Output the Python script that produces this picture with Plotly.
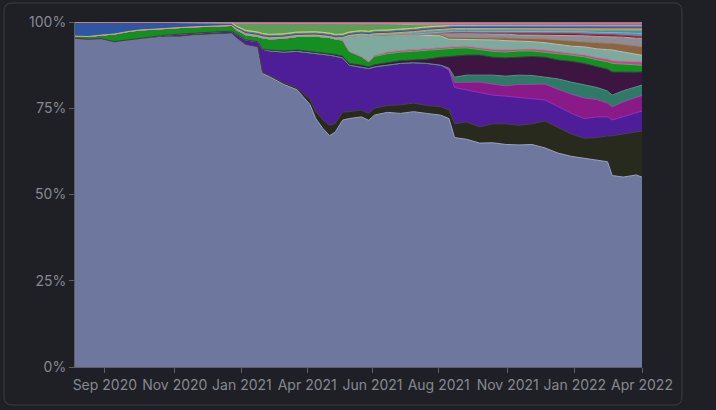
import plotly.graph_objects as go

# ---------------- data ----------------
dates = [
    "2020-08-01", "2020-08-15", "2020-08-29", "2020-09-12", "2020-09-26", "2020-10-10",
    "2020-10-24", "2020-11-07", "2020-11-22", "2020-12-06", "2020-12-20", "2021-01-03",
    "2021-01-16", "2021-01-21", "2021-01-31", "2021-02-13", "2021-02-18", "2021-02-26",
    "2021-03-13", "2021-03-27", "2021-04-10", "2021-04-16", "2021-04-24", "2021-05-01",
    "2021-05-07", "2021-05-15", "2021-05-22", "2021-06-04", "2021-06-12", "2021-06-18",
    "2021-07-02", "2021-07-16", "2021-07-30", "2021-08-13", "2021-08-28", "2021-09-06",
    "2021-09-12", "2021-09-25", "2021-10-09", "2021-10-23", "2021-11-06", "2021-11-20",
    "2021-12-04", "2021-12-18", "2022-01-01", "2022-01-15", "2022-01-29", "2022-02-12",
    "2022-02-23", "2022-02-28", "2022-03-12", "2022-03-26", "2022-04-01",
]

tick_dates = ["2020-09-02", "2020-11-16", "2021-01-27", "2021-04-07", "2021-06-16",
              "2021-08-26", "2021-11-08", "2022-01-19", "2022-04-01"]
tick_labels = ["Sep 2020", "Nov 2020", "Jan 2021", "Apr 2021", "Jun 2021",
               "Aug 2021", "Nov 2021", "Jan 2022", "Apr 2022"]
y_tick_vals = [0, 25, 50, 75, 100]
y_tick_labels = ["0%", "25%", "50%", "75%", "100%"]

s_base = [95.3, 95.0, 95.2, 94.3, 94.8, 95.3, 95.6, 95.9, 95.9, 96.3, 96.5, 96.7, 96.8,
          95.5, 93.5, 92.8, 85.0, 84.0, 81.8, 80.3, 76.0, 72.0, 69.0, 67.0, 68.0,
          71.5, 72.0, 72.5, 71.5, 73.0, 73.8, 73.5, 74.0, 73.5, 73.0, 72.0, 66.5,
          66.0, 64.9, 65.0, 64.5, 64.3, 64.5, 63.5, 62.0, 61.0, 60.5, 60.0, 59.5, 55.5, 55.0, 55.5, 54.8]
s_olive = [0, 0, 0, 0, 0, 0, 0, 0, 0, 0, 0, 0, 0, 0, 0, 0,
           0.3, 0.4, 0.5, 0.5, 1.5, 2.0, 2.5, 3.0, 2.5, 2.3,
           2.0, 2.0, 2.0, 2.0, 2.0, 2.5, 2.5, 2.3, 2.5, 2.5,
           4.0, 5.0, 4.7, 5.5, 6.0, 5.7, 6.0, 7.8, 7.5, 6.5,
           5.8, 6.5, 7.5, 11.5, 12.5, 12.5, 13.3]
s_purple = [0, 0, 0, 0, 0, 0, 0, 0.3, 0.6, 0.5, 0.5, 0.5, 0.5, 1.0, 1.3, 1.5,
            6.7, 7.1, 8.9, 10.6, 13.5, 16.8, 19.1, 20.3, 19.5, 15.7,
            13.5, 12.5, 13.0, 12.0, 11.7, 12.0, 11.7, 12.2, 12.0, 11.5,
            10.5, 9.3, 9.8, 8.3, 8.0, 8.0, 7.3, 6.1, 6.0, 6.0,
            5.7, 6.0, 5.5, 4.6, 5.0, 5.5, 5.8]
s_magenta = [0, 0, 0, 0, 0, 0, 0, 0, 0, 0, 0, 0, 0, 0, 0, 0, 0, 0, 0, 0,
             0, 0, 0, 0, 0, 0, 0, 0, 0, 0, 0, 0, 0, 0, 0,
             0.3, 1.5, 2.3, 3.2, 3.2, 3.0, 3.8, 4.2, 4.6, 5.0, 5.5, 6.0, 5.0, 4.0, 3.8, 4.3, 4.5, 4.5]
s_teal = [0, 0, 0, 0, 0, 0, 0, 0, 0, 0, 0, 0, 0, 0, 0, 0, 0, 0, 0, 0,
          0, 0, 0, 0, 0, 0, 0, 0, 0, 0, 0, 0, 0, 0, 0,
          0.3, 1.5, 2.0, 2.0, 2.6, 2.8, 2.7, 2.5, 2.0, 3.0, 3.5, 3.7, 3.5, 3.5, 3.4, 3.2, 3.0, 3.0]
s_plum = [0, 0, 0, 0, 0, 0, 0, 0, 0, 0, 0, 0, 0, 0, 0, 0, 0,
          0.3, 0.3, 0.4, 0.4, 0.4, 0.4, 0.4, 0.5, 0.5, 0.5,
          0.5, 0.5, 0.6, 0.8, 0.8, 0.8, 1.2, 2.3, 3.4, 6.2,
          5.8, 5.8, 5.2, 5.3, 5.3, 5.5, 5.8, 5.5, 6.0, 6.3,
          6.0, 6.3, 6.7, 5.3, 4.2, 3.8]
s_green = [0.6, 0.8, 1.0, 2.2, 2.4, 2.4, 2.3, 2.0, 1.9, 1.8,
           1.7, 1.6, 1.7, 1.3, 1.5, 1.5, 3.3, 3.2, 3.7, 3.9,
           4.5, 4.6, 4.6, 4.7, 4.5, 4.6, 3.5, 2.5, 1.5, 2.4,
           2.5, 2.5, 2.5, 2.6, 2.4, 2.3, 2.2, 2.1, 1.5, 1.7,
           1.7, 1.7, 1.6, 1.5, 1.8, 1.8, 1.9, 2.0, 2.2, 2.5,
           2.5, 2.1, 1.9]
s_pink = [0, 0, 0, 0, 0, 0, 0, 0, 0, 0, 0, 0, 0, 0, 0, 0, 0, 0, 0, 0,
          0, 0, 0, 0, 0, 0, 0, 0, 0,
          0.3, 0.5, 0.5, 0.5, 0.5, 0.5, 0.5, 0.5, 0.5, 0.6,
          0.6, 0.7, 0.6, 0.6, 0.6, 0.6, 0.6, 0.6, 0.7, 0.8,
          0.8, 0.8, 0.9, 1.0]
s_lteal = [0, 0, 0, 0, 0, 0, 0, 0, 0, 0, 0, 0, 0, 0, 0, 0, 0, 0, 0, 0,
           0, 0, 0, 0, 0,
           0.5, 4.3, 6.2, 7.5, 5.7, 4.8, 4.5, 4.2, 3.8, 3.3,
           2.2, 2.1, 2.0, 2.3, 2.7, 2.6, 2.3, 2.1, 2.1, 2.1,
           2.0, 2.3, 2.5, 2.7, 3.1, 2.6, 2.1, 1.9]
s_brown = [0, 0, 0, 0, 0, 0, 0, 0, 0, 0, 0, 0, 0, 0, 0, 0, 0, 0, 0, 0,
           0, 0, 0, 0, 0, 0, 0, 0, 0, 0, 0, 0, 0,
           0.3, 0.5, 0.6, 0.6, 0.6, 0.7, 0.7, 0.8, 0.8, 1.0, 1.1, 1.3, 1.5,
           1.6, 1.8, 1.9, 2.0, 2.2, 2.4, 2.5]
s_grey = [0, 0, 0, 0, 0, 0, 0, 0, 0, 0, 0, 0, 0, 0, 0, 0, 0, 0, 0, 0,
          0, 0, 0, 0, 0, 0, 0, 0, 0,
          0.3, 0.3, 0.3, 0.3, 0.4, 0.3, 1.3, 1.3, 1.3, 1.3, 1.0,
          1.1, 0.9, 0.9, 1.1, 1.3, 1.5, 1.6, 1.8, 1.9, 1.9,
          2.1, 2.3, 2.4]
s_darkred = [0, 0, 0, 0, 0, 0, 0, 0, 0, 0, 0, 0, 0, 0, 0, 0, 0, 0, 0, 0,
             0, 0, 0, 0, 0, 0, 0, 0, 0, 0, 0, 0, 0, 0, 0, 0, 0, 0, 0,
             0.3, 0.3, 0.6, 0.6, 0.6, 0.7, 0.7, 0.5, 0.5, 0.5, 0.5, 0.5, 0.5, 0.5]
s_slate = [0, 0, 0, 0, 0, 0, 0, 0, 0, 0, 0, 0, 0, 0, 0, 0, 0, 0, 0, 0,
           0, 0, 0, 0, 0, 0, 0, 0, 0, 0, 0, 0, 0, 0,
           0.3, 0.4, 0.4, 0.4, 0.5, 0.5, 0.5, 0.5, 0.5, 0.5, 0.5, 0.6,
           0.7, 0.7, 0.7, 0.7, 0.8, 0.9, 0.9]
s_tealline = [0, 0, 0, 0, 0, 0, 0, 0, 0, 0, 0, 0, 0, 0, 0, 0, 0, 0, 0, 0,
              0, 0, 0, 0, 0, 0, 0, 0, 0, 0, 0, 0,
              0.4, 0.5, 0.5, 0.5, 0.5, 0.5, 0.5, 0.5, 0.5, 0.5, 0.5, 0.5, 0.5, 0.5,
              0.6, 0.7, 0.7, 0.7, 0.8, 0.9, 0.9]
s_orange = [0, 0, 0, 0, 0, 0, 0, 0, 0, 0, 0, 0, 0,
            0.2, 0.3, 0.3, 0.3, 0.3, 0.3, 0.3, 0.3, 0.3, 0.3, 0.3, 0.3, 0.3, 0.3,
            0.3, 0.3, 0.3, 0.3, 0.3, 0.3, 0.3, 0.3, 0.3, 0.3, 0.3, 0.3, 0.3, 0.3,
            0.3, 0.3, 0.3, 0.3, 0.3, 0.3, 0.3, 0.3, 0.3, 0.3, 0.4, 0.4]
s_blue = [4.1, 4.2, 3.8, 3.5, 2.8, 2.3, 2.1, 1.8, 1.3, 1.1, 1.0, 0.9, 0.5, 0.5,
          0.6, 0.6, 0.6, 0.6, 0.6, 0.6, 0.6, 0.6, 0.6, 0.6, 0.6, 0.6, 0.6,
          0.6, 0.6, 0.6, 0.6, 0.6, 0.6, 0.6, 0.6, 0.6, 0.6, 0.6, 0.6, 0.6,
          0.6, 0.6, 0.6, 0.6, 0.6, 0.6, 0.6, 0.6, 0.6, 0.6, 0.6, 0.6, 0.6]
s_yellow = [0, 0, 0, 0, 0, 0, 0, 0, 0.3, 0.3, 0.3, 0.3, 0.3, 0.3,
            0.4, 0.4, 0.4, 0.4, 0.4, 0.4, 0.4, 0.4, 0.4, 0.4, 0.4, 0.4, 0.4,
            0.4, 0.4, 0.4, 0.4, 0.4, 0.4, 0.4, 0.4, 0.4, 0.4, 0.4, 0.4, 0.4,
            0.4, 0.4, 0.4, 0.4, 0.4, 0.4, 0.4, 0.4, 0.4, 0.4, 0.4, 0.4, 0.4]
s_lgreen = [0, 0, 0, 0, 0, 0, 0, 0, 0, 0, 0, 0, 0,
            0.9, 2.0, 2.5, 2.9, 3.2, 3.0, 2.5, 2.3, 2.4, 2.6, 2.8, 3.2, 3.1,
            2.5, 2.1, 2.3, 2.0, 1.8, 1.4, 1.0, 0.5, 0.2,
            0, 0, 0, 0, 0, 0, 0, 0, 0, 0, 0, 0, 0, 0, 0, 0, 0, 0]
s_lilac = [0, 0, 0, 0, 0, 0, 0, 0, 0, 0, 0, 0, 0, 0, 0, 0, 0, 0, 0, 0,
           0, 0, 0, 0, 0, 0, 0, 0, 0, 0, 0,
           0.2, 0.3, 0.4, 0.4, 0.4, 0.4, 0.4, 0.4, 0.4, 0.4, 0.4, 0.4, 0.4, 0.4, 0.4, 0.4,
           0.5, 0.5, 0.5, 0.5, 0.5, 0.5]
s_topbrown = [0, 0, 0, 0, 0, 0, 0, 0, 0, 0, 0, 0, 0.2, 0.3,
              0.4, 0.4, 0.4, 0.4, 0.4, 0.4, 0.4, 0.4, 0.4, 0.4, 0.4, 0.4, 0.4, 0.4, 0.4, 0.4,
              0.5, 0.5, 0.5, 0.5, 0.5, 0.5, 0.5, 0.5, 0.5, 0.5, 0.5, 0.5, 0.5, 0.5, 0.5,
              0.5, 0.5, 0.5, 0.5, 0.5, 0.5, 0.5, 0.5]

# bottom-to-top stacking order: (name, values, fill colour, outline colour)
layers = [
    ("base", s_base, "#6e779d", "#9aa3cb"),
    ("olive", s_olive, "#282a1e", "#454836"),
    ("purple", s_purple, "#4d1e98", "#8a35c8"),
    ("magenta", s_magenta, "#891a87", "#b23db2"),
    ("teal", s_teal, "#2e7a66", "#4a9c86"),
    ("plum", s_plum, "#3c1541", "#5b2b61"),
    ("green", s_green, "#13901f", "#3fc050"),
    ("pink", s_pink, "#c04a88", "#d872a6"),
    ("lightteal", s_lteal, "#7ea99f", "#a3cbc2"),
    ("brown", s_brown, "#8c6442", "#a8825e"),
    ("grey", s_grey, "#8c8d96", "#a9aab2"),
    ("darkred", s_darkred, "#8e1b1b", "#b03a3a"),
    ("slate", s_slate, "#6a86c0", "#8ea6da"),
    ("tealline", s_tealline, "#3e9a86", "#62b8a4"),
    ("orange", s_orange, "#d08a34", "#e6a656"),
    ("blue", s_blue, "#2f56a3", "#4c78c8"),
    ("yellow", s_yellow, "#c8b448", "#ddcc6a"),
    ("lightgreen", s_lgreen, "#5c9e58", "#7cbc76"),
    ("lilac", s_lilac, "#b848c8", "#cf6ede"),
    ("topbrown", s_topbrown, "#a86a3c", "#c4885a"),
]

fig = go.Figure()
for i, (name, vals, fillc, linec) in enumerate(layers):
    kw = dict(groupnorm="percent") if i == 0 else {}
    fig.add_trace(go.Scatter(
        x=dates, y=vals, name=name, mode="lines", stackgroup="one",
        fillcolor=fillc, line=dict(color=linec, width=1, shape="linear"),
        hoverinfo="skip", **kw))

# card border (rounded rectangle around the chart)
x0, x1 = -0.1252, 1.0705
yt, yb = 1.0551, -0.1101
rx, ry = 0.0141, 0.0232
card = (f"M {x0+rx},{yt} L {x1-rx},{yt} Q {x1},{yt} {x1},{yt-ry} "
        f"L {x1},{yb+ry} Q {x1},{yb} {x1-rx},{yb} L {x0+rx},{yb} "
        f"Q {x0},{yb} {x0},{yb+ry} L {x0},{yt-ry} Q {x0},{yt} {x0+rx},{yt} Z")

axis_col = "#5c5f66"
fig.update_layout(
    width=716, height=410,
    margin=dict(l=75, r=74, t=22, b=43),
    paper_bgcolor="#1f2025", plot_bgcolor="#1f2025",
    showlegend=False,
    font=dict(family="Inter, Roboto, sans-serif", size=14, color="#868991"),
    shapes=[dict(type="path", path=card, xref="paper", yref="paper",
                 line=dict(color="#3b3d43", width=1), fillcolor="rgba(0,0,0,0)",
                 layer="below")],
    xaxis=dict(type="date", range=[dates[0], dates[-1]],
               tickmode="array", tickvals=tick_dates, ticktext=tick_labels,
               showgrid=False, zeroline=False, showline=True, linecolor=axis_col,
               ticks="outside", ticklen=5, tickcolor=axis_col, tickangle=0),
    yaxis=dict(range=[0, 100], tickmode="array", tickvals=y_tick_vals,
               ticktext=y_tick_labels, showgrid=False, zeroline=False,
               showline=True, linecolor=axis_col, ticks="outside", ticklen=5,
               tickcolor=axis_col),
)

fig.write_html(
    "out.html",
    config={"displayModeBar": False},
    post_script="document.body.style.margin='0';document.body.style.background='#1f2025';",
)
